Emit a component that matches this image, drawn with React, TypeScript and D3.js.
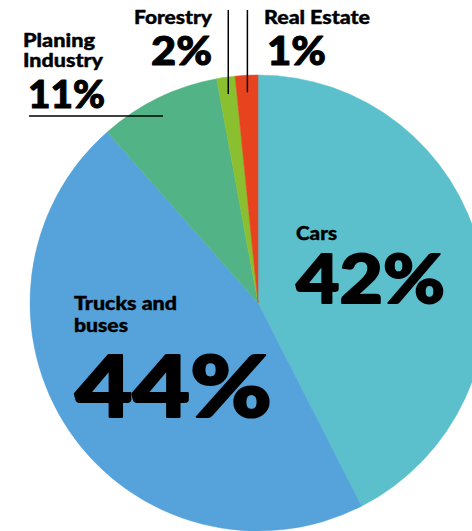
import React from "react";
import * as d3 from "d3";

const categories = ["Cars", "Trucks and buses", "Planing Industry", "Forestry", "Real Estate"];
const values = [42.5, 46.0, 8.6, 1.3, 1.6];
const pctLabels = ["42%", "44%", "11%", "2%", "1%"];
const colors = ["#5bc0cc", "#55a3da", "#52b386", "#8abf2f", "#e8431f"];

const W = 472;
const H = 531;
const cx = 258;
const cy = 303;
const R = 228;

const FONT = "Lato, 'Noto Sans', sans-serif";

type TProps = { x: number; y: number; size: number; len: number; sw: number; children: React.ReactNode };
function T({ x, y, size, len, sw, children }: TProps) {
  return (
    <text
      x={x}
      y={y}
      fontSize={size}
      textLength={len}
      lengthAdjust="spacingAndGlyphs"
      stroke="#000"
      strokeWidth={sw}
      strokeLinejoin="round"
    >
      {children}
    </text>
  );
}

export default function App() {
  const pie = d3.pie<number>().sort(null).startAngle(0).endAngle(2 * Math.PI);
  const arcs = pie(values);
  const arcGen = d3.arc<d3.PieArcDatum<number>>().innerRadius(0).outerRadius(R);

  const forestryMid = (arcs[3].startAngle + arcs[3].endAngle) / 2;
  const realMid = (arcs[4].startAngle + arcs[4].endAngle) / 2;
  const rLead = R - 17;
  const fx = cx + rLead * Math.sin(forestryMid);
  const fy = cy - rLead * Math.cos(forestryMid);
  const rx = cx + rLead * Math.sin(realMid);
  const ry = cy - rLead * Math.cos(realMid);

  return (
    <svg width={W} height={H} style={{ position: "absolute", left: 0, top: 0 }}>
      <rect width={W} height={H} fill="#ffffff" />
      <g transform={`translate(${cx},${cy})`}>
        {arcs.map((a, i) => (
          <path key={categories[i]} d={arcGen(a) || ""} fill={colors[i]} stroke={colors[i]} strokeWidth={0.5} />
        ))}
      </g>
      <line x1={fx} y1={10} x2={fx} y2={fy} stroke="#000" strokeWidth={1.5} />
      <line x1={rx} y1={10} x2={rx} y2={ry} stroke="#000" strokeWidth={1.5} />
      <line x1={29} y1={116} x2={163} y2={116} stroke="#000" strokeWidth={1.5} />

      <g fontFamily={FONT} fontWeight={900} fill="#000">
        <T x={134} y={24} size={18} len={78} sw={0.4}>{categories[3]}</T>
        <T x={151} y={65} size={39} len={61} sw={1}>{pctLabels[3]}</T>

        <T x={264} y={24} size={18} len={106} sw={0.4}>{categories[4]}</T>
        <T x={267} y={65} size={39} len={59} sw={1}>{pctLabels[4]}</T>

        <T x={23} y={47} size={18} len={72} sw={0.4}>Planing</T>
        <T x={23} y={67} size={18} len={80} sw={0.4}>Industry</T>
        <T x={28} y={108} size={37} len={77} sw={1}>{pctLabels[2]}</T>

        <T x={296} y={240} size={18} len={41} sw={0.4}>{categories[0]}</T>
        <T x={296} y={303} size={66} len={149} sw={1.8}>{pctLabels[0]}</T>

        <T x={74} y={310} size={18} len={103} sw={0.4}>Trucks and</T>
        <T x={74} y={332} size={18} len={54} sw={0.4}>buses</T>
        <T x={75} y={417} size={86} len={197} sw={2.2}>{pctLabels[1]}</T>
      </g>
    </svg>
  );
}
